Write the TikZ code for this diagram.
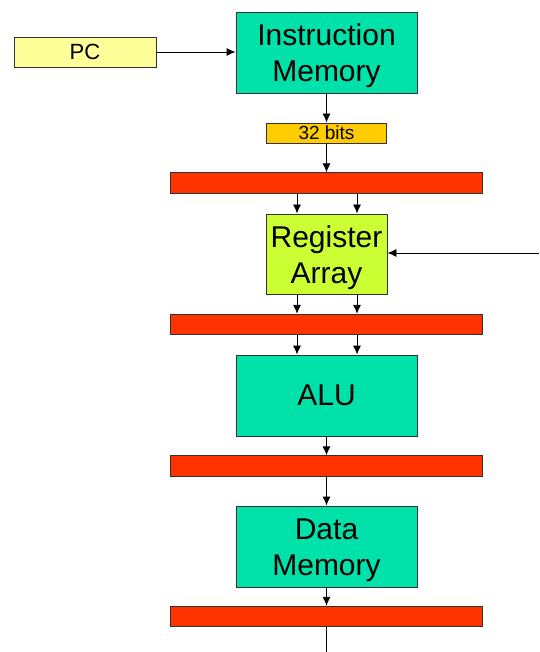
\documentclass[tikz,border=0pt]{standalone}
\usepackage{fontspec}
\setmainfont{Liberation Sans}
\usetikzlibrary{arrows.meta}
\definecolor{memgreen}{RGB}{0,226,170}
\definecolor{reglime}{RGB}{204,255,51}
\definecolor{pcyellow}{RGB}{255,255,153}
\definecolor{bitsorange}{RGB}{255,204,0}
\definecolor{latchred}{RGB}{255,51,0}
\definecolor{edgegray}{RGB}{50,50,50}
\tikzset{
  unit/.style={draw=edgegray, line width=0.9pt, rectangle, inner sep=0pt, align=center,
    font=\fontsize{30}{36}\selectfont},
  caption/.style={align=center, inner sep=0pt, yshift=-3.5pt, font=\fontsize{30}{36}\selectfont},
  latch/.style={draw=edgegray, line width=0.9pt, rectangle, inner sep=0pt, fill=latchred,
    minimum width=312pt, minimum height=20.5pt},
  flow/.style={line width=0.9pt, -{Latex[length=9pt,width=8pt]}},
  wire/.style={line width=0.9pt}
}
\begin{document}
\begin{tikzpicture}[x=1pt,y=-1pt]
  \useasboundingbox (0,0) rectangle (539,652);
  % functional units
  \node[unit, fill=pcyellow, minimum width=142pt, minimum height=30pt,
        font=\fontsize{22}{26}\selectfont] (pc) at (85,52) {PC};
  \node[unit, fill=memgreen, minimum width=181pt, minimum height=81pt,
        label={[caption]center:{Instruction\\Memory}}] (im) at (326.5,52.5) {};
  \node[unit, fill=bitsorange, minimum width=120pt, minimum height=20pt,
        font=\fontsize{19}{22}\selectfont] (bits) at (326.5,133) {32 bits};
  \node[latch] (l1) at (326.5,183) {};
  \node[unit, fill=reglime, minimum width=121pt, minimum height=80pt,
        label={[caption]center:{Register\\Array}}] (ra) at (326.5,254) {};
  \node[latch] (l2) at (326.5,324.5) {};
  \node[unit, fill=memgreen, minimum width=181pt, minimum height=81pt] (alu) at (326.5,395.5) {ALU};
  \node[latch] (l3) at (326.5,466) {};
  \node[unit, fill=memgreen, minimum width=181pt, minimum height=81pt,
        label={[caption]center:{Data\\Memory}}] (dm) at (326.5,546.5) {};
  \node[latch] (l4) at (326.5,616.5) {};
  \coordinate (wb) at (539,253);
  \coordinate (out) at (326.5,652);
  % connections
  \draw[flow] (pc.east) -- (pc.east -| im.west);
  \draw[flow] (im.south) -- (bits.north);
  \draw[flow] (bits.south) -- (l1.north);
  \draw[flow] ([xshift=-29.5pt]l1.south) -- ([xshift=-29.5pt]ra.north);
  \draw[flow] ([xshift=30.5pt]l1.south) -- ([xshift=30.5pt]ra.north);
  \draw[flow] (wb) -- (wb -| ra.east);
  \draw[flow] ([xshift=-29.5pt]ra.south) -- ([xshift=-29.5pt]l2.north);
  \draw[flow] ([xshift=30.5pt]ra.south) -- ([xshift=30.5pt]l2.north);
  \draw[flow] ([xshift=-29.5pt]l2.south) -- ([xshift=-29.5pt]alu.north);
  \draw[flow] ([xshift=30.5pt]l2.south) -- ([xshift=30.5pt]alu.north);
  \draw[flow] (alu.south) -- (l3.north);
  \draw[flow] (l3.south) -- (dm.north);
  \draw[flow] (dm.south) -- (l4.north);
  \draw[wire] (l4.south) -- (out);
\end{tikzpicture}
\end{document}
